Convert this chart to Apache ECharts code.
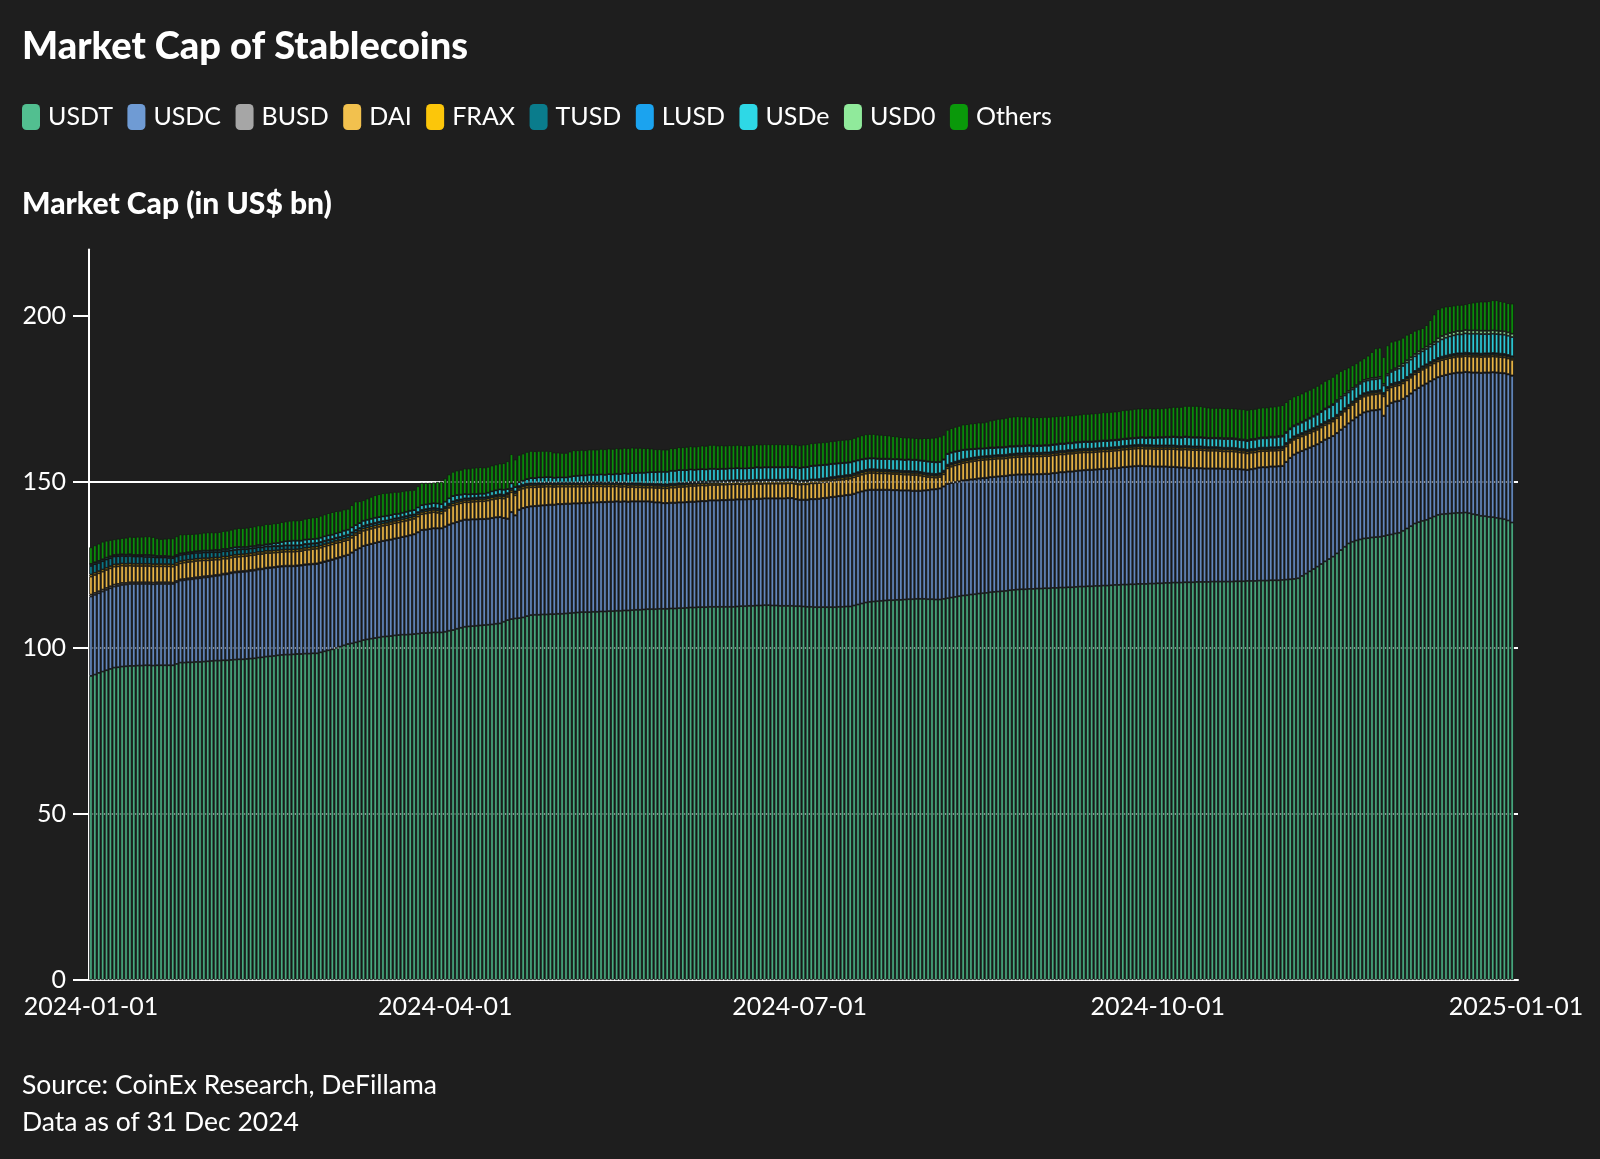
<!DOCTYPE html>
<html style="height: 100%">
<head>
    <meta charset="utf-8">
</head>
<body style="height: 100%; margin: 0; background: #1e1e1e">
<div id="container" style="width: 1600px; height: 1159px"></div>
<script type="text/javascript" src="https://cdn.jsdelivr.net/npm/echarts@6/dist/echarts.min.js"></script>
<script type="text/javascript">
    // daily market cap, US$ bn, 2024-01-01 .. 2024-12-31 (one row per week)
    var usdt = [
        91.6,92.0,92.5,92.9,93.3,93.7,94.1,
        94.2,94.4,94.5,94.6,94.6,94.7,94.7,
        94.8,94.8,94.7,94.8,94.8,94.8,94.8,
        94.8,95.2,95.6,95.6,95.7,95.7,95.8,
        95.8,95.9,96.0,96.1,96.2,96.2,96.3,
        96.3,96.4,96.5,96.6,96.6,96.7,96.8,
        96.9,97.1,97.2,97.4,97.5,97.6,97.8,
        97.9,98.0,98.0,98.1,98.2,98.2,98.3,
        98.3,98.4,98.4,98.7,99.0,99.3,99.6,
        100.0,100.4,100.8,101.2,101.4,101.7,102.0,
        102.4,102.6,102.8,103.0,103.2,103.4,103.5,
        103.6,103.8,103.9,104.0,104.0,104.1,104.2,
        104.3,104.5,104.5,104.6,104.7,104.7,104.7,
        104.9,105.2,105.4,105.8,106.1,106.4,106.5,
        106.6,106.7,106.8,106.9,107.0,107.1,107.3,
        107.4,107.9,108.4,108.7,108.9,109.0,109.2,
        109.6,109.9,110.0,110.0,110.1,110.1,110.2,
        110.2,110.3,110.3,110.4,110.5,110.6,110.7,
        110.8,110.8,110.8,110.9,110.9,111.0,111.0,
        111.1,111.1,111.2,111.2,111.3,111.3,111.4,
        111.5,111.5,111.6,111.7,111.7,111.7,111.8,
        111.8,111.8,111.9,111.9,112.0,112.0,112.1,
        112.2,112.2,112.3,112.3,112.3,112.4,112.4,
        112.4,112.4,112.4,112.4,112.4,112.5,112.6,
        112.6,112.7,112.7,112.8,112.8,112.9,112.9,
        112.8,112.8,112.7,112.7,112.7,112.7,112.6,
        112.6,112.5,112.4,112.4,112.3,112.3,112.3,
        112.3,112.3,112.3,112.4,112.4,112.5,112.5,
        112.8,113.1,113.4,113.7,113.9,114.0,114.1,
        114.2,114.3,114.4,114.4,114.5,114.5,114.6,
        114.7,114.7,114.8,114.8,114.8,114.7,114.7,
        114.6,114.6,114.8,115.0,115.2,115.4,115.6,
        115.8,115.9,116.1,116.2,116.4,116.5,116.6,
        116.8,116.9,117.0,117.1,117.2,117.4,117.5,
        117.6,117.7,117.7,117.8,117.8,117.9,117.9,
        118.0,118.0,118.1,118.1,118.2,118.2,118.3,
        118.3,118.4,118.5,118.5,118.6,118.6,118.7,
        118.7,118.8,118.8,118.9,119.0,119.0,119.1,
        119.1,119.2,119.2,119.3,119.3,119.3,119.4,
        119.4,119.5,119.5,119.6,119.6,119.7,119.7,
        119.7,119.8,119.8,119.8,119.9,119.9,119.9,
        119.9,120.0,120.0,120.0,120.0,120.0,120.0,
        120.1,120.1,120.1,120.2,120.2,120.2,120.3,
        120.3,120.3,120.4,120.4,120.4,120.5,120.6,
        120.7,120.8,121.0,121.7,122.4,123.1,123.8,
        124.5,125.3,126.1,126.8,127.5,128.5,129.5,
        130.5,131.5,132.0,132.4,132.7,133.0,133.1,
        133.3,133.4,133.5,133.7,134.0,134.2,134.5,
        134.7,135.3,136.0,136.7,137.5,137.9,138.3,
        138.6,139.1,139.6,140.1,140.3,140.4,140.5,
        140.6,140.7,140.7,140.8,140.6,140.3,140.1,
        139.8,139.7,139.5,139.4,139.2,139.0,138.8,
        138.4,137.8
    ];
    var usdc = [
        23.9,24.0,24.0,24.1,24.2,24.3,24.4,
        24.5,24.6,24.6,24.7,24.7,24.6,24.6,
        24.5,24.5,24.5,24.5,24.5,24.5,24.5,
        24.5,24.6,24.7,24.8,24.9,25.0,25.1,
        25.2,25.3,25.3,25.4,25.5,25.6,25.8,
        25.9,26.1,26.2,26.2,26.3,26.3,26.4,
        26.4,26.5,26.5,26.6,26.6,26.6,26.6,
        26.6,26.6,26.6,26.5,26.5,26.6,26.7,
        26.8,26.8,26.9,26.9,26.9,26.9,26.9,
        26.9,26.8,26.8,26.8,27.3,27.8,28.0,
        28.3,28.4,28.5,28.6,28.7,28.8,28.9,
        29.0,29.1,29.2,29.4,29.6,29.8,30.0,
        30.5,31.0,31.1,31.2,31.3,31.3,31.3,
        31.6,31.9,32.1,32.1,32.2,32.2,32.1,
        32.1,32.0,32.0,31.9,31.9,32.0,32.0,
        32.0,31.2,30.5,32.2,31.0,32.6,32.9,
        32.8,32.7,32.7,32.8,32.8,32.9,32.9,
        32.9,33.0,33.0,33.0,32.9,32.9,32.8,
        32.8,32.8,32.9,32.9,32.9,32.9,32.9,
        32.9,32.9,32.9,32.8,32.8,32.7,32.7,
        32.6,32.6,32.5,32.4,32.3,32.1,32.0,
        31.8,31.8,31.8,31.8,31.8,31.8,31.8,
        31.8,31.8,31.8,31.9,31.9,32.0,32.0,
        32.0,32.1,32.1,32.2,32.2,32.2,32.1,
        32.1,32.1,32.1,32.1,32.1,32.1,32.1,
        32.2,32.2,32.3,32.3,32.4,32.4,32.2,
        32.0,32.1,32.2,32.4,32.5,32.6,32.8,
        32.9,33.1,33.2,33.3,33.4,33.5,33.6,
        33.6,33.7,33.7,33.7,33.7,33.6,33.5,
        33.4,33.3,33.2,33.1,33.0,32.9,32.8,
        32.7,32.6,32.5,32.5,32.6,32.8,33.0,
        33.2,33.4,33.8,34.4,34.5,34.5,34.5,
        34.6,34.6,34.6,34.6,34.6,34.6,34.6,
        34.6,34.6,34.6,34.6,34.6,34.6,34.6,
        34.6,34.5,34.5,34.5,34.4,34.4,34.4,
        34.4,34.4,34.5,34.6,34.7,34.7,34.8,
        34.8,34.9,34.9,35.0,35.0,35.0,35.0,
        35.1,35.1,35.1,35.1,35.1,35.2,35.3,
        35.4,35.4,35.5,35.5,35.5,35.4,35.3,
        35.2,35.1,35.1,35.0,34.9,34.8,34.7,
        34.6,34.5,34.4,34.3,34.2,34.2,34.1,
        34.1,34.0,34.0,34.0,33.9,33.9,33.9,
        33.8,33.7,33.6,33.4,33.6,33.8,34.0,
        34.1,34.1,34.2,34.2,34.3,34.3,35.4,
        36.5,37.4,37.8,37.6,37.4,37.2,37.0,
        36.8,36.7,36.6,36.4,36.3,36.2,36.2,
        36.1,36.1,36.5,37.0,37.5,37.9,38.1,
        38.2,38.2,38.3,36.2,38.9,39.6,39.7,
        39.7,39.7,39.8,39.9,40.1,40.4,40.7,
        41.0,41.2,41.3,41.4,41.6,41.8,42.0,
        42.1,42.2,42.2,42.3,42.4,42.6,42.8,
        43.0,43.2,43.4,43.6,43.7,43.8,43.9,
        44.0,44.2
    ];
    var busd = [
        0.6,0.6,0.6,0.6,0.6,0.6,0.6,
        0.6,0.6,0.5,0.5,0.5,0.5,0.5,
        0.5,0.5,0.5,0.5,0.5,0.5,0.5,
        0.4,0.4,0.4,0.4,0.4,0.4,0.4,
        0.4,0.4,0.4,0.3,0.3,0.3,0.3,
        0.3,0.3,0.3,0.3,0.3,0.3,0.3,
        0.3,0.3,0.2,0.2,0.2,0.2,0.2,
        0.2,0.2,0.2,0.2,0.2,0.2,0.2,
        0.2,0.2,0.2,0.2,0.2,0.2,0.2,
        0.2,0.2,0.2,0.1,0.1,0.1,0.1,
        0.1,0.1,0.1,0.1,0.1,0.1,0.1,
        0.1,0.1,0.1,0.1,0.1,0.1,0.1,
        0.1,0.1,0.1,0.1,0.1,0.1,0.1,
        0.1,0.1,0.1,0.1,0.1,0.1,0.1,
        0.1,0.1,0.1,0.1,0.1,0.1,0.1,
        0.1,0.1,0.1,0.1,0.1,0.1,0.1,
        0.1,0.1,0.1,0.1,0.1,0.1,0.1,
        0.1,0.1,0.1,0.1,0.1,0.1,0.1,
        0.1,0.1,0.1,0.1,0.1,0.1,0.1,
        0.1,0.1,0.1,0.1,0.1,0.1,0.1,
        0.1,0.1,0.1,0.1,0.1,0.1,0.1,
        0.1,0.1,0.1,0.1,0.1,0.1,0.1,
        0.1,0.1,0.1,0.1,0.1,0.1,0.1,
        0.1,0.1,0.1,0.1,0.1,0.1,0.1,
        0.1,0.1,0.1,0.1,0.1,0.1,0.1,
        0.1,0.1,0.1,0.1,0.1,0.1,0.1,
        0.1,0.1,0.1,0.1,0.1,0.1,0.1,
        0.1,0.1,0.1,0.1,0.1,0.1,0.1,
        0.1,0.1,0.1,0.1,0.1,0.1,0.1,
        0.1,0.1,0.1,0.1,0.1,0.1,0.1,
        0.1,0.1,0.1,0.1,0.1,0.1,0.1,
        0.1,0.1,0.1,0.1,0.1,0.1,0.1,
        0.1,0.1,0.1,0.1,0.1,0.1,0.1,
        0.1,0.1,0.1,0.1,0.1,0.1,0.1,
        0.1,0.1,0.1,0.1,0.1,0.1,0.1,
        0.1,0.1,0.1,0.1,0.1,0.1,0.1,
        0.1,0.1,0.1,0.1,0.1,0.1,0.1,
        0.1,0.1,0.1,0.1,0.1,0.1,0.1,
        0.1,0.1,0.1,0.1,0.1,0.1,0.1,
        0.1,0.1,0.1,0.1,0.1,0.1,0.1,
        0.1,0.1,0.1,0.1,0.1,0.1,0.1,
        0.1,0.1,0.1,0.1,0.1,0.1,0.1,
        0.1,0.1,0.1,0.1,0.1,0.1,0.1,
        0.1,0.1,0.1,0.1,0.1,0.1,0.1,
        0.1,0.1,0.1,0.1,0.1,0.1,0.1,
        0.1,0.1,0.1,0.1,0.1,0.1,0.1,
        0.1,0.1,0.1,0.1,0.1,0.1,0.1,
        0.1,0.1,0.1,0.1,0.1,0.1,0.1,
        0.1,0.1,0.1,0.1,0.1,0.1,0.1,
        0.1,0.1,0.1,0.1,0.1,0.1,0.1,
        0.1,0.1,0.1,0.1,0.1,0.1,0.1,
        0.1,0.1,0.1,0.1,0.1,0.1,0.1,
        0.1,0.1
    ];
    var dai = [
        5.4,5.4,5.4,5.4,5.4,5.4,5.4,
        5.3,5.2,5.1,5.0,4.9,4.9,4.9,
        4.9,4.9,4.9,4.8,4.8,4.8,4.8,
        4.8,4.8,4.8,4.9,4.9,4.9,4.9,
        4.9,4.8,4.7,4.7,4.6,4.5,4.5,
        4.4,4.4,4.4,4.4,4.4,4.4,4.4,
        4.4,4.4,4.4,4.4,4.3,4.3,4.2,
        4.2,4.2,4.2,4.2,4.2,4.2,4.3,
        4.3,4.4,4.4,4.4,4.5,4.5,4.5,
        4.5,4.4,4.4,4.4,4.4,4.4,4.5,
        4.5,4.5,4.5,4.5,4.5,4.5,4.5,
        4.6,4.6,4.6,4.6,4.6,4.6,4.6,
        4.7,4.7,4.8,4.8,4.8,4.6,4.4,
        4.7,5.0,5.3,5.3,5.2,5.2,5.2,
        5.2,5.3,5.3,5.3,5.4,5.5,5.5,
        5.6,5.8,6.5,5.9,6.0,5.9,5.8,
        5.8,5.7,5.6,5.6,5.5,5.5,5.4,
        5.3,5.2,5.2,5.1,5.1,5.0,5.0,
        4.9,4.9,4.9,4.8,4.8,4.7,4.6,
        4.6,4.5,4.5,4.4,4.4,4.3,4.3,
        4.2,4.2,4.1,4.1,4.2,4.3,4.3,
        4.4,4.4,4.5,4.5,4.6,4.6,4.6,
        4.7,4.7,4.7,4.7,4.6,4.6,4.6,
        4.6,4.6,4.6,4.6,4.6,4.6,4.5,
        4.5,4.5,4.5,4.5,4.4,4.4,4.4,
        4.4,4.4,4.4,4.4,4.4,4.4,4.5,
        4.5,4.6,4.6,4.7,4.7,4.7,4.7,
        4.7,4.8,4.8,4.8,4.8,4.8,4.8,
        4.9,4.9,5.0,5.0,5.0,5.0,4.9,
        4.9,4.9,4.8,4.8,4.8,4.8,4.7,
        4.7,4.7,4.7,4.5,4.2,3.9,3.6,
        3.4,3.4,3.6,4.6,4.8,5.0,5.1,
        5.2,5.3,5.3,5.4,5.4,5.4,5.4,
        5.3,5.3,5.3,5.2,5.2,5.2,5.2,
        5.2,5.2,5.3,5.3,5.3,5.3,5.3,
        5.3,5.3,5.3,5.3,5.3,5.3,5.3,
        5.3,5.3,5.3,5.3,5.2,5.2,5.2,
        5.2,5.2,5.2,5.2,5.2,5.2,5.2,
        5.2,5.2,5.2,5.2,5.2,5.2,5.2,
        5.2,5.2,5.2,5.2,5.3,5.3,5.3,
        5.3,5.4,5.4,5.4,5.4,5.4,5.4,
        5.3,5.3,5.3,5.2,5.2,5.2,5.2,
        5.1,5.0,5.0,4.9,4.9,4.8,4.8,
        4.8,4.8,4.7,4.7,4.7,4.7,4.6,
        4.5,4.4,4.3,4.3,4.3,4.3,4.3,
        4.3,4.3,4.3,4.3,4.3,4.4,4.4,
        4.5,4.5,4.6,4.6,4.7,4.7,4.7,
        4.7,4.7,4.7,5.8,4.6,4.6,4.6,
        4.6,4.6,4.7,4.7,4.7,4.7,4.7,
        4.7,4.7,4.7,4.7,4.7,4.7,4.7,
        4.7,4.7,4.7,4.7,4.7,4.7,4.7,
        4.7,4.7,4.7,4.7,4.7,4.7,4.7,
        4.7,4.7
    ];
    var frax = [
        0.65,0.65,0.65,0.65,0.65,0.65,0.65,
        0.65,0.65,0.65,0.65,0.65,0.65,0.65,
        0.65,0.65,0.65,0.65,0.65,0.65,0.65,
        0.65,0.65,0.65,0.65,0.65,0.65,0.65,
        0.65,0.65,0.65,0.65,0.65,0.65,0.65,
        0.65,0.65,0.65,0.65,0.65,0.65,0.65,
        0.65,0.65,0.65,0.65,0.65,0.65,0.65,
        0.65,0.65,0.65,0.65,0.65,0.65,0.65,
        0.65,0.65,0.65,0.65,0.65,0.65,0.65,
        0.65,0.65,0.65,0.65,0.65,0.65,0.65,
        0.65,0.65,0.65,0.65,0.65,0.65,0.65,
        0.65,0.65,0.65,0.65,0.65,0.65,0.65,
        0.65,0.65,0.65,0.65,0.65,0.65,0.65,
        0.6,0.6,0.6,0.6,0.6,0.6,0.6,
        0.6,0.6,0.6,0.6,0.6,0.6,0.6,
        0.6,0.6,0.6,0.6,0.6,0.6,0.6,
        0.6,0.6,0.6,0.6,0.6,0.6,0.6,
        0.6,0.6,0.6,0.6,0.6,0.6,0.6,
        0.6,0.6,0.6,0.6,0.6,0.6,0.6,
        0.6,0.6,0.6,0.6,0.6,0.6,0.6,
        0.6,0.6,0.6,0.6,0.6,0.6,0.6,
        0.6,0.6,0.6,0.6,0.6,0.6,0.6,
        0.6,0.6,0.6,0.6,0.6,0.6,0.6,
        0.6,0.6,0.6,0.6,0.6,0.6,0.6,
        0.6,0.6,0.6,0.6,0.6,0.6,0.6,
        0.6,0.6,0.6,0.6,0.6,0.6,0.6,
        0.6,0.6,0.6,0.6,0.6,0.6,0.6,
        0.6,0.6,0.6,0.6,0.6,0.6,0.6,
        0.6,0.6,0.6,0.6,0.6,0.6,0.6,
        0.55,0.55,0.55,0.55,0.55,0.55,0.55,
        0.55,0.55,0.55,0.55,0.55,0.55,0.55,
        0.55,0.55,0.55,0.55,0.55,0.55,0.55,
        0.55,0.55,0.55,0.55,0.55,0.55,0.55,
        0.55,0.55,0.55,0.55,0.55,0.55,0.55,
        0.55,0.55,0.55,0.55,0.55,0.55,0.55,
        0.55,0.55,0.55,0.55,0.55,0.55,0.55,
        0.55,0.55,0.55,0.55,0.55,0.55,0.55,
        0.55,0.55,0.55,0.55,0.55,0.55,0.55,
        0.55,0.55,0.55,0.55,0.55,0.55,0.55,
        0.55,0.55,0.55,0.55,0.55,0.55,0.55,
        0.55,0.55,0.55,0.55,0.55,0.55,0.55,
        0.55,0.55,0.55,0.55,0.55,0.55,0.55,
        0.55,0.55,0.55,0.55,0.55,0.55,0.55,
        0.5,0.5,0.5,0.5,0.5,0.5,0.5,
        0.5,0.5,0.5,0.5,0.5,0.5,0.5,
        0.5,0.5,0.5,0.5,0.5,0.5,0.5,
        0.5,0.5,0.5,0.5,0.5,0.5,0.5,
        0.5,0.5,0.5,0.5,0.5,0.5,0.5,
        0.5,0.5,0.5,0.5,0.5,0.5,0.5,
        0.5,0.5,0.5,0.5,0.5,0.5,0.5,
        0.5,0.5,0.5,0.5,0.5,0.5,0.5,
        0.5,0.5,0.5,0.5,0.5,0.5,0.5,
        0.5,0.5
    ];
    var tusd = [
        2.6,2.6,2.5,2.5,2.5,2.4,2.4,
        2.4,2.3,2.3,2.3,2.2,2.2,2.2,
        2.1,2.1,2.1,2.0,2.0,2.0,1.9,
        1.9,1.9,1.9,1.8,1.8,1.8,1.8,
        1.7,1.7,1.7,1.7,1.6,1.6,1.6,
        1.6,1.5,1.5,1.5,1.5,1.4,1.4,
        1.4,1.4,1.3,1.3,1.3,1.3,1.2,
        1.2,1.2,1.2,1.2,1.1,1.1,1.1,
        1.1,1.0,1.0,1.0,1.0,1.0,0.9,
        0.9,0.9,0.9,0.9,0.9,0.8,0.8,
        0.8,0.8,0.8,0.8,0.8,0.7,0.7,
        0.7,0.7,0.7,0.7,0.7,0.7,0.6,
        0.6,0.6,0.6,0.6,0.6,0.6,0.6,
        0.6,0.6,0.6,0.6,0.5,0.5,0.5,
        0.5,0.5,0.5,0.5,0.5,0.5,0.5,
        0.5,0.5,0.5,0.5,0.5,0.5,0.5,
        0.5,0.5,0.5,0.5,0.5,0.5,0.5,
        0.5,0.5,0.5,0.5,0.5,0.5,0.5,
        0.5,0.5,0.5,0.5,0.5,0.5,0.5,
        0.5,0.5,0.5,0.5,0.5,0.5,0.5,
        0.5,0.5,0.5,0.5,0.5,0.5,0.5,
        0.5,0.5,0.5,0.5,0.5,0.5,0.5,
        0.5,0.5,0.5,0.5,0.5,0.5,0.5,
        0.5,0.5,0.5,0.5,0.5,0.5,0.5,
        0.5,0.5,0.5,0.5,0.5,0.5,0.5,
        0.5,0.5,0.5,0.5,0.5,0.5,0.5,
        0.5,0.5,0.5,0.5,0.5,0.5,0.5,
        0.5,0.5,0.5,0.5,0.5,0.5,0.5,
        0.5,0.5,0.5,0.5,0.5,0.5,0.5,
        0.5,0.5,0.5,0.5,0.5,0.5,0.5,
        0.5,0.5,0.5,0.5,0.5,0.5,0.5,
        0.5,0.5,0.5,0.5,0.5,0.5,0.5,
        0.5,0.5,0.5,0.5,0.5,0.5,0.5,
        0.5,0.5,0.5,0.5,0.5,0.5,0.5,
        0.5,0.5,0.5,0.5,0.5,0.5,0.5,
        0.5,0.5,0.5,0.5,0.5,0.5,0.5,
        0.5,0.5,0.5,0.5,0.5,0.5,0.5,
        0.5,0.5,0.5,0.5,0.5,0.5,0.5,
        0.5,0.5,0.5,0.5,0.5,0.5,0.5,
        0.5,0.5,0.5,0.5,0.5,0.5,0.5,
        0.5,0.5,0.5,0.5,0.5,0.5,0.5,
        0.5,0.5,0.5,0.5,0.5,0.5,0.5,
        0.5,0.5,0.5,0.5,0.5,0.5,0.5,
        0.5,0.5,0.5,0.5,0.5,0.5,0.5,
        0.5,0.5,0.5,0.5,0.5,0.5,0.5,
        0.5,0.5,0.5,0.5,0.5,0.5,0.5,
        0.5,0.5,0.5,0.5,0.5,0.5,0.5,
        0.5,0.5,0.5,0.5,0.5,0.5,0.5,
        0.5,0.5,0.5,0.5,0.5,0.5,0.5,
        0.5,0.5,0.5,0.5,0.5,0.5,0.5,
        0.5,0.5,0.5,0.5,0.5,0.5,0.5,
        0.5,0.5,0.5,0.5,0.5,0.5,0.5,
        0.5,0.5
    ];
    var lusd = [
        0.08,0.08,0.08,0.08,0.08,0.08,0.08,
        0.08,0.08,0.08,0.08,0.08,0.08,0.08,
        0.08,0.08,0.08,0.08,0.08,0.08,0.08,
        0.08,0.08,0.08,0.08,0.08,0.08,0.08,
        0.08,0.08,0.08,0.08,0.08,0.08,0.08,
        0.08,0.08,0.08,0.08,0.08,0.08,0.08,
        0.08,0.08,0.08,0.08,0.08,0.08,0.08,
        0.08,0.08,0.08,0.08,0.08,0.08,0.08,
        0.08,0.08,0.08,0.08,0.08,0.08,0.08,
        0.08,0.08,0.08,0.08,0.08,0.08,0.08,
        0.08,0.08,0.08,0.08,0.08,0.08,0.08,
        0.08,0.08,0.08,0.08,0.08,0.08,0.08,
        0.08,0.08,0.08,0.08,0.08,0.08,0.08,
        0.08,0.08,0.08,0.08,0.08,0.08,0.08,
        0.08,0.08,0.08,0.08,0.08,0.08,0.08,
        0.08,0.08,0.08,0.08,0.08,0.08,0.08,
        0.08,0.08,0.08,0.08,0.08,0.08,0.08,
        0.08,0.08,0.08,0.08,0.08,0.08,0.08,
        0.08,0.08,0.08,0.08,0.08,0.08,0.08,
        0.08,0.08,0.08,0.08,0.08,0.08,0.08,
        0.08,0.08,0.08,0.08,0.08,0.08,0.08,
        0.08,0.08,0.08,0.08,0.08,0.08,0.08,
        0.08,0.08,0.08,0.08,0.08,0.08,0.08,
        0.08,0.08,0.08,0.08,0.08,0.08,0.08,
        0.08,0.08,0.08,0.08,0.08,0.08,0.08,
        0.08,0.08,0.08,0.08,0.08,0.08,0.08,
        0.07,0.07,0.07,0.07,0.07,0.07,0.07,
        0.07,0.07,0.07,0.07,0.07,0.07,0.07,
        0.07,0.07,0.07,0.07,0.07,0.07,0.07,
        0.07,0.07,0.07,0.07,0.07,0.07,0.07,
        0.07,0.07,0.07,0.07,0.07,0.07,0.07,
        0.07,0.07,0.07,0.07,0.07,0.07,0.07,
        0.07,0.07,0.07,0.07,0.07,0.07,0.07,
        0.07,0.07,0.07,0.07,0.07,0.07,0.07,
        0.07,0.07,0.07,0.07,0.07,0.07,0.07,
        0.07,0.07,0.07,0.07,0.07,0.07,0.07,
        0.07,0.07,0.07,0.07,0.07,0.07,0.07,
        0.07,0.07,0.07,0.07,0.07,0.07,0.07,
        0.07,0.07,0.07,0.07,0.07,0.07,0.07,
        0.07,0.07,0.07,0.07,0.07,0.07,0.07,
        0.07,0.07,0.07,0.07,0.07,0.07,0.07,
        0.07,0.07,0.07,0.07,0.07,0.07,0.07,
        0.07,0.07,0.07,0.07,0.07,0.07,0.07,
        0.06,0.06,0.06,0.06,0.06,0.06,0.06,
        0.06,0.06,0.06,0.06,0.06,0.06,0.06,
        0.06,0.06,0.06,0.06,0.06,0.06,0.06,
        0.06,0.06,0.06,0.06,0.06,0.06,0.06,
        0.06,0.06,0.06,0.06,0.06,0.06,0.06,
        0.06,0.06,0.06,0.06,0.06,0.06,0.06,
        0.06,0.06,0.06,0.06,0.06,0.06,0.06,
        0.06,0.06,0.06,0.06,0.06,0.06,0.06,
        0.06,0.06,0.06,0.06,0.06,0.06,0.06,
        0.06,0.06
    ];
    var usde = [
        0.5,0.5,0.5,0.5,0.5,0.5,0.4,
        0.4,0.4,0.4,0.4,0.4,0.4,0.4,
        0.5,0.5,0.5,0.4,0.4,0.4,0.4,
        0.4,0.4,0.4,0.4,0.4,0.4,0.4,
        0.5,0.5,0.5,0.5,0.6,0.6,0.6,
        0.6,0.7,0.7,0.7,0.6,0.6,0.6,
        0.6,0.6,0.6,0.6,0.7,0.8,0.9,
        1.1,1.2,1.3,1.4,1.4,1.3,1.3,
        1.3,1.3,1.3,1.3,1.3,1.3,1.3,
        1.3,1.4,1.5,1.5,1.5,1.5,1.5,
        1.5,1.5,1.5,1.5,1.4,1.4,1.4,
        1.3,1.3,1.2,1.2,1.3,1.3,1.3,
        1.4,1.4,1.4,1.4,1.4,1.5,1.5,
        1.5,1.6,1.6,1.5,1.4,1.3,1.2,
        1.2,1.1,1.1,1.1,1.2,1.3,1.4,
        1.5,1.5,1.2,1.5,1.3,1.2,1.2,
        1.4,1.6,1.6,1.7,1.7,1.7,1.7,
        1.6,1.6,1.6,1.6,1.8,2.0,2.1,
        2.2,2.2,2.3,2.3,2.3,2.4,2.4,
        2.5,2.5,2.6,2.7,2.8,2.9,3.0,
        3.1,3.2,3.3,3.4,3.5,3.6,3.7,
        3.8,3.8,3.9,3.9,3.9,3.9,3.8,
        3.8,3.7,3.7,3.7,3.7,3.7,3.7,
        3.6,3.6,3.6,3.6,3.6,3.6,3.6,
        3.6,3.6,3.6,3.7,3.7,3.7,3.7,
        3.7,3.7,3.7,3.7,3.7,3.7,3.8,
        3.8,3.9,4.0,4.0,4.1,4.1,4.0,
        4.0,3.9,3.9,3.8,3.8,3.7,3.7,
        3.6,3.5,3.4,3.3,3.2,3.2,3.2,
        3.2,3.2,3.3,3.3,3.3,3.3,3.3,
        3.4,3.4,3.4,3.4,3.5,3.5,3.5,
        3.5,3.4,3.3,3.2,3.1,3.0,2.9,
        2.8,2.7,2.6,2.5,2.4,2.3,2.3,
        2.3,2.2,2.2,2.2,2.2,2.2,2.1,
        2.1,2.1,2.1,2.1,2.0,2.0,2.0,
        2.0,2.0,2.0,2.0,2.0,2.0,2.0,
        2.0,2.0,2.0,2.0,2.0,2.0,2.0,
        2.0,2.0,2.0,2.0,2.0,2.0,2.0,
        2.0,2.0,2.0,2.0,2.1,2.1,2.2,
        2.2,2.3,2.3,2.4,2.4,2.5,2.5,
        2.5,2.6,2.6,2.6,2.6,2.6,2.6,
        2.6,2.6,2.6,2.6,2.6,2.6,2.6,
        2.6,2.6,2.6,2.6,2.7,2.7,2.7,
        2.8,2.8,2.9,2.9,3.0,3.0,3.0,
        3.0,3.0,3.0,3.1,3.2,3.3,3.4,
        3.5,3.6,3.7,3.8,3.9,3.9,3.9,
        3.8,3.7,3.6,3.5,3.5,3.5,3.5,
        3.5,3.5,3.5,2.2,3.4,3.6,3.8,
        4.0,4.2,4.3,4.4,4.4,4.5,4.5,
        4.6,4.6,4.7,4.9,5.2,5.4,5.5,
        5.6,5.7,5.7,5.8,5.8,5.9,5.9,
        5.9,5.8,5.8,5.8,5.8,5.8,5.8,
        5.8,5.8
    ];
    var usd0 = [
        0,0,0,0,0,0,0,
        0,0,0,0,0,0,0,
        0,0,0,0,0,0,0,
        0,0,0,0,0,0,0,
        0,0,0,0,0,0,0,
        0,0,0,0,0,0,0,
        0,0,0,0,0,0,0,
        0,0,0,0,0,0,0,
        0,0,0,0,0,0,0,
        0,0,0,0,0,0,0,
        0,0,0,0,0,0,0,
        0,0,0,0,0,0,0,
        0,0,0,0,0,0,0,
        0,0,0,0,0,0,0,
        0,0,0,0,0,0,0,
        0,0,0,0,0,0,0,
        0,0,0,0,0,0,0,
        0,0,0,0,0,0,0,
        0,0,0,0,0,0,0,
        0,0,0,0,0,0,0,
        0,0,0,0,0,0,0,
        0,0,0,0,0,0,0,
        0,0,0,0,0,0,0,
        0,0,0,0,0,0,0,
        0,0,0.1,0.1,0.1,0.1,0.1,
        0.1,0.1,0.1,0.1,0.1,0.1,0.1,
        0.1,0.1,0.1,0.1,0.1,0.1,0.1,
        0.1,0.1,0.1,0.1,0.1,0.1,0.1,
        0.1,0.1,0.1,0.1,0.1,0.1,0.1,
        0.1,0.1,0.1,0.1,0.1,0.1,0.1,
        0.1,0.1,0.1,0.1,0.1,0.1,0.1,
        0.1,0.1,0.1,0.1,0.1,0.1,0.1,
        0.1,0.1,0.1,0.1,0.1,0.1,0.1,
        0.2,0.2,0.2,0.2,0.2,0.2,0.2,
        0.2,0.2,0.2,0.2,0.2,0.2,0.2,
        0.2,0.2,0.2,0.2,0.2,0.2,0.2,
        0.2,0.2,0.2,0.2,0.2,0.2,0.2,
        0.2,0.2,0.2,0.2,0.2,0.2,0.2,
        0.2,0.2,0.2,0.2,0.2,0.2,0.2,
        0.2,0.2,0.2,0.2,0.2,0.2,0.2,
        0.2,0.2,0.2,0.2,0.2,0.2,0.2,
        0.2,0.2,0.2,0.3,0.3,0.3,0.3,
        0.3,0.3,0.3,0.3,0.3,0.3,0.3,
        0.3,0.3,0.3,0.3,0.3,0.3,0.3,
        0.3,0.3,0.3,0.3,0.3,0.3,0.3,
        0.3,0.3,0.3,0.3,0.3,0.5,0.5,
        0.5,0.5,0.5,0.5,0.5,0.5,0.5,
        0.5,0.5,0.5,0.5,0.5,0.5,0.5,
        0.7,0.7,0.7,0.7,0.7,0.7,0.7,
        0.7,0.7,0.7,1.0,1.0,1.0,1.0,
        1.0,1.0,1.0,1.0,1.0,1.0,1.0,
        1.0,1.0,1.0,1.0,1.0,1.0,1.0,
        1.0,1.0
    ];
    var others = [
        5.0,5.1,5.2,5.3,5.1,4.9,4.7,
        4.8,4.9,5.1,5.3,5.4,5.5,5.5,
        5.6,5.6,5.5,5.3,5.1,5.2,5.4,
        5.5,5.6,5.7,5.6,5.5,5.4,5.3,
        5.3,5.4,5.5,5.4,5.3,5.4,5.4,
        5.5,5.5,5.6,5.7,5.7,5.8,5.8,
        5.9,5.9,6.0,6.1,6.0,6.0,6.0,
        6.0,6.0,6.1,6.1,6.1,6.2,6.3,
        6.4,6.5,6.5,6.6,6.6,6.7,6.8,
        6.7,6.5,6.4,6.3,6.7,7.1,6.6,
        6.2,6.4,6.6,6.8,6.9,7.0,6.9,
        6.8,6.7,6.6,6.5,6.4,6.2,6.1,
        6.4,6.7,6.5,6.3,6.2,6.5,6.8,
        7.0,7.2,7.3,7.4,7.5,7.7,7.8,
        7.9,8.0,8.0,7.9,7.8,7.8,7.8,
        7.8,8.0,8.4,8.8,8.3,8.2,8.2,
        8.2,8.2,8.1,8.0,8.0,7.9,7.8,
        7.6,7.5,7.4,7.4,7.6,7.8,7.7,
        7.7,7.6,7.6,7.6,7.6,7.7,7.7,
        7.7,7.7,7.7,7.7,7.7,7.7,7.7,
        7.6,7.5,7.4,7.3,7.1,6.9,6.8,
        6.7,6.7,6.8,6.8,6.9,6.9,7.0,
        7.0,7.0,7.0,7.1,7.1,7.2,7.2,
        7.1,7.1,7.0,7.0,7.0,7.0,7.0,
        6.9,6.9,6.9,6.9,6.9,6.9,6.9,
        6.9,6.9,6.9,6.8,6.8,6.8,6.8,
        6.8,6.8,6.8,6.8,6.8,6.8,6.8,
        6.8,6.8,6.8,6.9,6.9,6.9,6.9,
        7.0,7.1,7.2,7.3,7.3,7.3,7.2,
        7.2,7.1,7.0,6.9,6.8,6.7,6.7,
        6.6,6.6,6.5,6.6,6.8,7.0,7.2,
        7.4,7.6,7.4,7.2,7.3,7.4,7.5,
        7.6,7.6,7.7,7.7,7.8,7.8,7.9,
        8.1,8.3,8.5,8.6,8.7,8.8,8.9,
        8.9,8.8,8.7,8.6,8.6,8.5,8.5,
        8.5,8.5,8.4,8.4,8.3,8.3,8.3,
        8.2,8.2,8.2,8.3,8.3,8.4,8.4,
        8.4,8.5,8.5,8.5,8.5,8.5,8.6,
        8.6,8.6,8.7,8.7,8.7,8.7,8.7,
        8.7,8.7,8.7,8.7,8.8,8.9,9.0,
        9.1,9.2,9.3,9.4,9.4,9.3,9.2,
        9.1,9.0,9.0,9.0,9.0,9.0,9.0,
        9.0,9.1,9.1,9.1,9.0,9.0,9.0,
        9.0,9.0,9.0,9.1,9.1,9.2,9.0,
        8.8,8.7,8.6,8.5,8.5,8.4,8.4,
        8.4,8.3,8.3,8.2,8.2,8.0,7.8,
        7.4,7.0,6.8,6.6,6.5,6.5,7.0,
        7.8,8.8,8.8,8.1,8.6,8.6,8.3,
        8.0,7.8,7.7,7.3,7.0,6.6,6.3,
        6.5,7.3,8.3,8.8,8.6,8.4,8.1,
        8.0,7.9,7.9,7.8,8.2,8.4,8.6,
        8.8,8.8,8.9,9.1,9.2,9.0,8.9,
        8.8,9.1
    ];

    var coinNames = ['USDT', 'USDC', 'BUSD', 'DAI', 'FRAX', 'TUSD', 'LUSD', 'USDe', 'USD0', 'Others'];
    // legend swatch colours, and the slightly deeper fills used for the bars
    var legendColors = ['#52bf90', '#6f9bd4', '#a6a6a6', '#f2c14e', '#fcc60a', '#0a7c8c', '#1ba3ef', '#2ed8e6', '#90ea9b', '#0a990a'];
    var barColors = ['#48a97f', '#6388bd', '#a0a0a0', '#e9b545', '#f5bf08', '#0a7686', '#1a9ce6', '#2bc9d6', '#88df93', '#0a8f0a'];
    var coinValues = [usdt, usdc, busd, dai, frax, tusd, lusd, usde, usd0, others];
    var tickLabels = ['2024-01-01', '2024-04-01', '2024-07-01', '2024-10-01', '2025-01-01'];
    var yTicks = [0, 50, 100, 150, 200];

    // one category per day, plus the closing date so the last tick sits at the end
    var days = [];
    for (var i = 0; i < usdt.length; i++) {
        days.push(new Date(Date.UTC(2024, 0, 1 + i)).toISOString().slice(0, 10));
    }
    days.push('2025-01-01');

    function isTick(index, value) {
        return tickLabels.indexOf(value) >= 0;
    }

    var font = 'Lato';
    var series = coinNames.map(function (name, k) {
        return {
            name: name,
            type: 'bar',
            stack: 'cap',
            barCategoryGap: '12%',
            data: coinValues[k],
            itemStyle: {color: barColors[k], borderColor: '#151515', borderWidth: 0.8}
        };
    });
    var legendItems = coinNames.map(function (name, k) {
        return {name: name, itemStyle: {color: legendColors[k], borderWidth: 0}};
    });

    var dom = document.getElementById('container');
    var myChart = echarts.init(dom);
    var option = {
        backgroundColor: '#1e1e1e',
        animation: false,
        textStyle: {fontFamily: font},
        title: [
            {
                text: 'Market Cap of Stablecoins', left: 22, top: 28, padding: 0,
                textStyle: {color: '#fff', fontSize: 38, fontWeight: 900, fontFamily: font}
            },
            {
                text: 'Market Cap (in US$ bn)', left: 22, top: 189, padding: 0,
                textStyle: {color: '#fff', fontSize: 30, fontWeight: 900, fontFamily: font}
            },
            {
                text: 'Source: CoinEx Research, DeFillama\nData as of 31 Dec 2024', left: 22, top: 1067, padding: 0,
                textStyle: {color: '#fff', fontSize: 26.5, fontWeight: 'normal', fontFamily: font, lineHeight: 37}
            }
        ],
        legend: {
            data: legendItems,
            left: 22,
            top: 104,
            padding: 0,
            icon: 'roundRect',
            itemWidth: 18,
            itemHeight: 26,
            itemGap: 14.5,
            itemStyle: {borderWidth: 0},
            textStyle: {color: '#fff', fontSize: 25, fontFamily: font, padding: [0, 0, 0, 3]}
        },
        grid: {left: 89, right: 82, top: 249.6, bottom: 179},
        xAxis: {
            type: 'category',
            data: days,
            boundaryGap: true,
            axisLine: {lineStyle: {color: '#ffffff', width: 2}},
            axisTick: {alignWithLabel: true, interval: isTick, length: 13, lineStyle: {color: '#ffffff', width: 2}},
            axisLabel: {interval: isTick, color: '#ffffff', fontSize: 25, fontFamily: font, margin: 14},
            splitLine: {show: false}
        },
        yAxis: {
            type: 'value',
            min: 0,
            max: 220,
            interval: 50,
            axisLine: {show: true, lineStyle: {color: '#ffffff', width: 2}},
            axisTick: {show: true, length: 16, customValues: yTicks, lineStyle: {color: '#ffffff', width: 2}},
            axisLabel: {color: '#ffffff', fontSize: 25, fontFamily: font, margin: 23, customValues: yTicks},
            splitLine: {show: true, showMaxLine: false, lineStyle: {color: '#ffffff', width: 2}}
        },
        series: series
    };
    myChart.setOption(option);
</script>
</body>
</html>
